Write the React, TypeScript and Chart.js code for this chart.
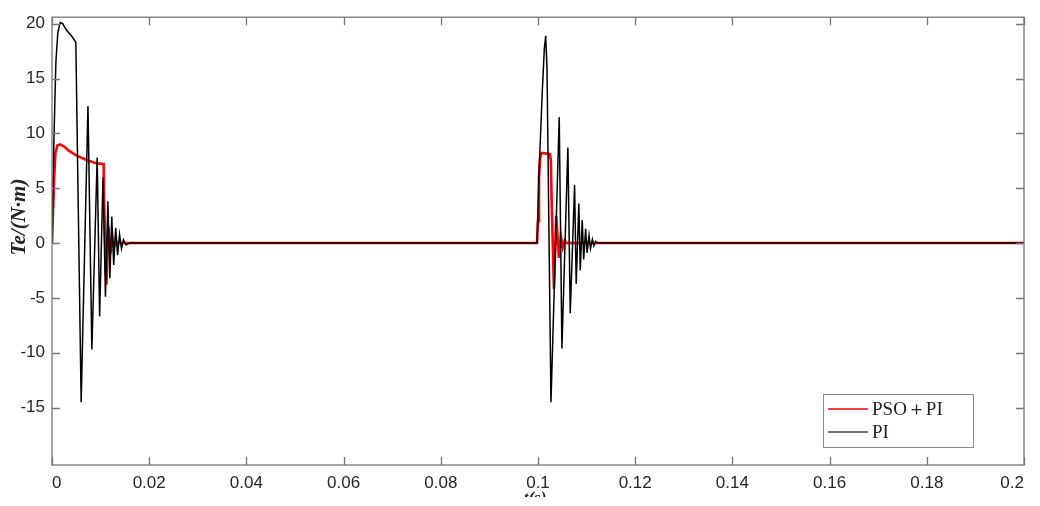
import React, { useEffect, useRef } from "react";
import { Chart, registerables } from "chart.js";

Chart.register(...registerables);

// ---- data ----
const piTime = [
  0, 0.00016, 0.0004, 0.0008, 0.0012, 0.0017, 0.0022, 0.003, 0.004, 0.0049,
  0.006, 0.0074, 0.0082, 0.0093, 0.0098, 0.0105, 0.011, 0.0115, 0.0119, 0.0123,
  0.0127, 0.0131, 0.0135, 0.0139, 0.0143, 0.0147, 0.0152, 0.016,
  0.0998, 0.1002, 0.10088, 0.1013, 0.10158, 0.10185, 0.10267, 0.10437, 0.10492,
  0.10615, 0.10663, 0.10753, 0.10786, 0.1084, 0.1087, 0.1091, 0.1094, 0.1098,
  0.1101, 0.1105, 0.1108, 0.1112, 0.1115, 0.1119, 0.1123, 0.2,
];
const piTorque = [
  0, 0, 9.5, 16.5, 19.2, 20.1, 20.0, 19.4, 18.9, 18.3,
  -14.5, 12.5, -9.7, 7.8, -6.7, 6.0, -4.9, 3.8, -3.2, 2.4,
  -2.0, 1.4, -1.1, 0.8, -0.5, 0.3, -0.15, 0,
  0, 6.3, 13.8, 17.7, 18.9, 16.0, -14.5, 11.5, -9.6,
  8.7, -6.4, 5.3, -3.7, 3.6, -2.5, 2.1, -1.5, 1.3,
  -0.9, 0.7, -0.5, 0.35, -0.25, 0.15, 0, 0,
];
const psoTime = [
  0, 0.00016, 0.0004, 0.0007, 0.0011, 0.0017, 0.0025, 0.0035, 0.005, 0.007,
  0.0089, 0.01063, 0.0107, 0.0112, 0.0116, 0.012, 0.0124, 0.0128, 0.0132, 0.0136,
  0.0998, 0.1, 0.1002, 0.10045, 0.1007, 0.1012, 0.10245, 0.10265, 0.1028,
  0.10328, 0.10375, 0.10431, 0.1047, 0.1051, 0.1055, 0.1059, 0.2,
];
const psoTorque = [
  0, 0, 5.5, 8.2, 8.9, 9.0, 8.8, 8.4, 8.0, 7.6,
  7.3, 7.2, 4.0, -3.8, 1.5, -1.0, 0.6, -0.3, 0.15, 0,
  0, 2.0, 6.0, 7.8, 8.2, 8.2, 8.1, 7.5, 4.0,
  -4.2, 2.5, -1.35, 0.7, -0.4, 0.2, 0, 0,
];
const xTickValues = [0, 0.02, 0.04, 0.06, 0.08, 0.1, 0.12, 0.14, 0.16, 0.18, 0.2];
const yTickValues = [-15, -10, -5, 0, 5, 10, 15, 20];
const seriesLabels = ["PSO\uFF0BPI", "PI"];
const seriesColors = ["#ff0000", "#000000"];
const yTitle = "Te/(N\u00B7m)";
const xTitle = "t(s)";

const X_MIN = 0;
const X_MAX = 0.2;
const Y_MIN = -20.23;
const Y_MAX = 20.59;

const toPoints = (xs: number[], ys: number[]) => xs.map((x, i) => ({ x, y: ys[i] }));

const fmt = (v: number) => String(Number(v.toFixed(3)));

const framePlugin = {
  id: "frameAndLegend",
  afterDatasetsDraw(chart: any) {
    const { ctx, chartArea: a, scales } = chart;
    ctx.save();
    // box
    ctx.strokeStyle = "#767676";
    ctx.lineWidth = 1.3;
    ctx.strokeRect(a.left, a.top, a.right - a.left, a.bottom - a.top);
    // inward ticks
    const L = 8;
    ctx.beginPath();
    xTickValues.forEach((v) => {
      const px = Math.round(scales.x.getPixelForValue(v)) + 0.5;
      ctx.moveTo(px, a.bottom);
      ctx.lineTo(px, a.bottom - L);
      ctx.moveTo(px, a.top);
      ctx.lineTo(px, a.top + L);
    });
    yTickValues.forEach((v) => {
      const py = Math.round(scales.y.getPixelForValue(v)) + 0.5;
      ctx.moveTo(a.left, py);
      ctx.lineTo(a.left + L, py);
      ctx.moveTo(a.right, py);
      ctx.lineTo(a.right - L, py);
    });
    ctx.stroke();

    // legend box
    const bx = a.right - 201;
    const by = a.bottom - 71;
    const bw = 150;
    const bh = 53;
    ctx.fillStyle = "#ffffff";
    ctx.fillRect(bx, by, bw, bh);
    ctx.strokeStyle = "#8a8a8a";
    ctx.lineWidth = 1;
    ctx.strokeRect(bx + 0.5, by + 0.5, bw, bh);
    ctx.font = '19px "Liberation Serif", "DejaVu Serif", serif';
    ctx.textBaseline = "middle";
    ctx.textAlign = "left";
    seriesLabels.forEach((lab, i) => {
      const ly = by + 15 + i * 23;
      ctx.strokeStyle = i === 0 ? seriesColors[0] : "#444444";
      ctx.lineWidth = 1.4;
      ctx.beginPath();
      ctx.moveTo(bx + 5, ly);
      ctx.lineTo(bx + 45, ly);
      ctx.stroke();
      ctx.fillStyle = "#222222";
      ctx.fillText(lab, bx + 49, ly + 1);
    });

    // y title
    ctx.save();
    ctx.translate(20, 217);
    ctx.rotate(-Math.PI / 2);
    ctx.font = 'italic bold 21px "Liberation Serif", "DejaVu Serif", serif';
    ctx.fillStyle = "#222222";
    ctx.textAlign = "center";
    ctx.textBaseline = "middle";
    ctx.fillText(yTitle, 0, 0);
    ctx.restore();

    // x title (partly cut off at the bottom like the reference)
    ctx.save();
    ctx.beginPath();
    ctx.rect(0, 0, chart.width, 497);
    ctx.clip();
    ctx.font = 'italic bold 17px "Liberation Serif", "DejaVu Serif", serif';
    ctx.fillStyle = "#222222";
    ctx.textAlign = "center";
    ctx.textBaseline = "alphabetic";
    ctx.fillText(xTitle, 535, 503);
    ctx.restore();

    ctx.restore();
  },
};

export default function App() {
  const ref = useRef<HTMLCanvasElement | null>(null);

  useEffect(() => {
    if (!ref.current) return;
    const chart = new Chart(ref.current, {
      type: "line",
      data: {
        datasets: [
          {
            label: seriesLabels[0],
            data: toPoints(psoTime, psoTorque),
            borderColor: seriesColors[0],
            borderWidth: 2.6,
            pointRadius: 0,
            tension: 0,
            order: 2,
          },
          {
            label: seriesLabels[1],
            data: toPoints(piTime, piTorque),
            borderColor: seriesColors[1],
            borderWidth: 1.5,
            pointRadius: 0,
            tension: 0,
            order: 1,
          },
        ],
      },
      options: {
        animation: false,
        responsive: true,
        maintainAspectRatio: false,
        layout: { padding: { top: 11, right: 16, bottom: 0, left: 0 } },
        plugins: {
          legend: { display: false },
          tooltip: { enabled: false },
        },
        scales: {
          x: {
            type: "linear",
            min: X_MIN,
            max: X_MAX,
            afterBuildTicks: (s: any) => {
              s.ticks = xTickValues.map((v) => ({ value: v }));
            },
            afterFit: (s: any) => {
              s.height = 41;
            },
            grid: { display: false, drawTicks: false },
            border: { display: false },
            ticks: {
              align: "inner",
              autoSkip: false,
              maxRotation: 0,
              padding: 8,
              color: "#262626",
              font: { family: '"Liberation Sans", Arial, sans-serif', size: 17 },
              callback: (v: any) => fmt(Number(v)),
            },
          },
          y: {
            type: "linear",
            min: Y_MIN,
            max: Y_MAX,
            afterBuildTicks: (s: any) => {
              s.ticks = yTickValues.map((v) => ({ value: v }));
            },
            afterFit: (s: any) => {
              s.width = 52;
            },
            grid: { display: false, drawTicks: false },
            border: { display: false },
            ticks: {
              autoSkip: false,
              padding: 7,
              color: "#262626",
              font: { family: '"Liberation Sans", Arial, sans-serif', size: 17 },
              callback: (v: any) => fmt(Number(v)),
            },
          },
        },
      },
      plugins: [framePlugin],
    });
    return () => chart.destroy();
  }, []);

  return (
    <div style={{ position: "fixed", left: 0, top: 0, width: 1040, height: 506, background: "#fff" }}>
      <canvas ref={ref} />
    </div>
  );
}
